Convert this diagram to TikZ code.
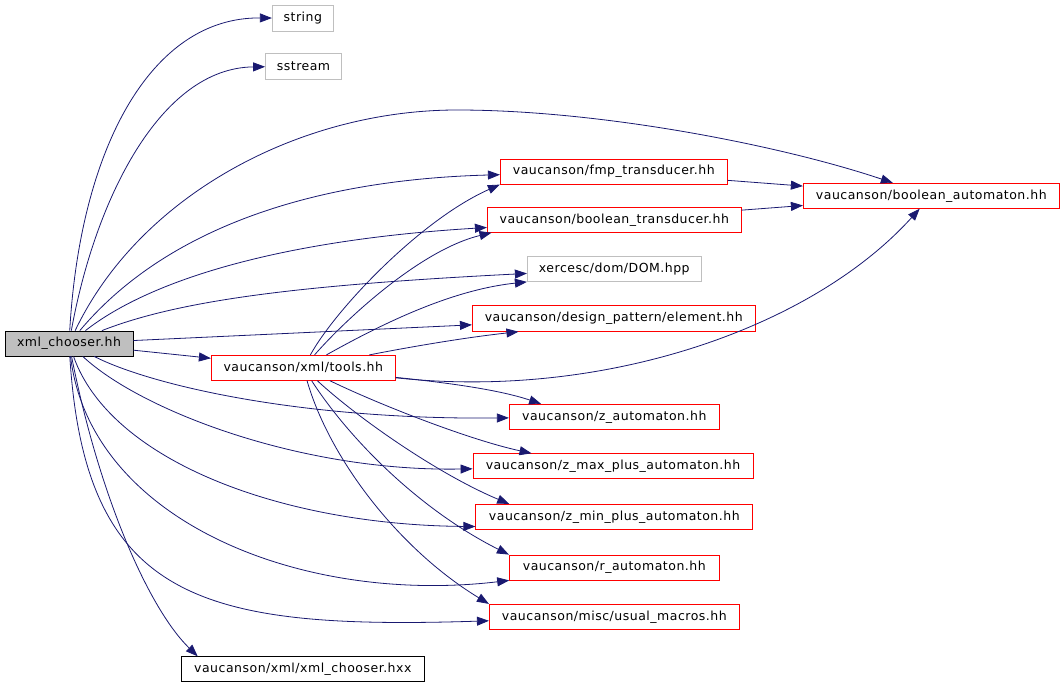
\documentclass[tikz,border=0pt]{standalone}
\usepackage{fontspec}
\setmainfont{DejaVu Sans}[LetterSpace=4]
\usetikzlibrary{arrows.meta}

\begin{document}
\begin{tikzpicture}[x=1pt,y=-1pt,
  filenode/.style={draw,line width=0.8pt,minimum height=25pt,inner sep=0pt,font=\fontsize{12.5}{14}\selectfont},
  rednode/.style={filenode,draw=red},
  greynode/.style={filenode,draw=greybox},
  dep/.style={draw=edge,line width=0.8pt,-{Triangle[length=12pt,width=9pt]}}]
\definecolor{greybox}{HTML}{BFBFBF}
\definecolor{edge}{HTML}{191970}
\useasboundingbox (0,0) rectangle (1064,685);
% files
\node[filenode,fill=greybox,minimum width=128pt] (xml) at (69,343.5) {xml\_chooser.hh};
\node[greynode,minimum width=61pt,minimum height=26pt] (str) at (302.8,18.3) {string};
\node[greynode,minimum width=76pt,minimum height=26pt] (sst) at (303.5,66.3) {sstream};
\node[rednode,minimum width=256pt] (ba) at (931.3,195.8) {vaucanson/boolean\_automaton.hh};
\node[rednode,minimum width=227pt] (fmp) at (613.8,171.7) {vaucanson/fmp\_transducer.hh};
\node[rednode,minimum width=254pt] (bt) at (614.3,219.8) {vaucanson/boolean\_transducer.hh};
\node[greynode,minimum width=174pt] (dom) at (614.3,269) {xercesc/dom/DOM.hpp};
\node[rednode,minimum width=283pt,minimum height=26pt] (el) at (613.8,318.3) {vaucanson/design\_pattern/element.hh};
\node[rednode,minimum width=184pt] (tools) at (303.3,367.8) {vaucanson/xml/tools.hh};
\node[rednode,minimum width=210pt] (za) at (614.3,416.8) {vaucanson/z\_automaton.hh};
\node[rednode,minimum width=280pt] (zmax) at (613,466.2) {vaucanson/z\_max\_plus\_automaton.hh};
\node[rednode,minimum width=277pt] (zmin) at (614.3,516.8) {vaucanson/z\_min\_plus\_automaton.hh};
\node[rednode,minimum width=210pt] (ra) at (614.3,567.5) {vaucanson/r\_automaton.hh};
\node[rednode,minimum width=250pt] (um) at (614.3,616.8) {vaucanson/misc/usual\_macros.hh};
\node[filenode,minimum width=243pt] (hxx) at (302.8,669.2) {vaucanson/xml/xml\_chooser.hxx};
% includes of xml_chooser.hh
\draw[dep] (xml) .. controls (80,150) and (150,17) .. (str);
\draw[dep] (xml) .. controls (95,200) and (160,68) .. (sst);
\draw[dep] (xml) .. controls (140,195) and (300,110) .. (457,110)
  .. controls (600,110) and (780,145) .. (ba);
\draw[dep] (xml) .. controls (160,235) and (300,180) .. (fmp);
\draw[dep] (xml) .. controls (150,280) and (280,240) .. (bt);
\draw[dep] (xml) .. controls (180,300) and (300,285) .. (dom);
\draw[dep] (xml) -- (el);
\draw[dep] (xml) -- (tools);
\draw[dep] (xml) .. controls (150,385) and (300,420) .. (za);
\draw[dep] (xml) .. controls (140,410) and (300,472) .. (zmax);
\draw[dep] (xml) .. controls (110,460) and (280,525) .. (zmin.184);
\draw[dep] (xml) .. controls (90,520) and (300,605) .. (ra.187);
\draw[dep] (xml) .. controls (85,600) and (200,630) .. (um);
\draw[dep] (xml) .. controls (100,500) and (150,610) .. (hxx.173);
% includes of tools.hh
\draw[dep] (tools) .. controls (335,310) and (420,220) .. (fmp.south west);
\draw[dep] (tools) .. controls (345,320) and (420,250) .. (bt.186);
\draw[dep] (tools) .. controls (380,325) and (450,290) .. (dom.south west);
\draw[dep] (tools) .. controls (420,345) and (470,337) .. (el.188);
\draw[dep] (tools) .. controls (600,400) and (810,330) .. (ba);
\draw[dep] (tools) .. controls (450,383) and (500,390) .. (za.170);
\draw[dep] (tools) .. controls (380,405) and (470,440) .. (zmax.171);
\draw[dep] (tools) .. controls (360,420) and (440,475) .. (zmin.173);
\draw[dep] (tools) .. controls (350,440) and (420,510) .. (ra.north west);
\draw[dep] (tools) .. controls (330,460) and (400,550) .. (um.north west);
% transducers
\draw[dep] (fmp) -- (ba);
\draw[dep] (bt) -- (ba);
\end{tikzpicture}
\end{document}
